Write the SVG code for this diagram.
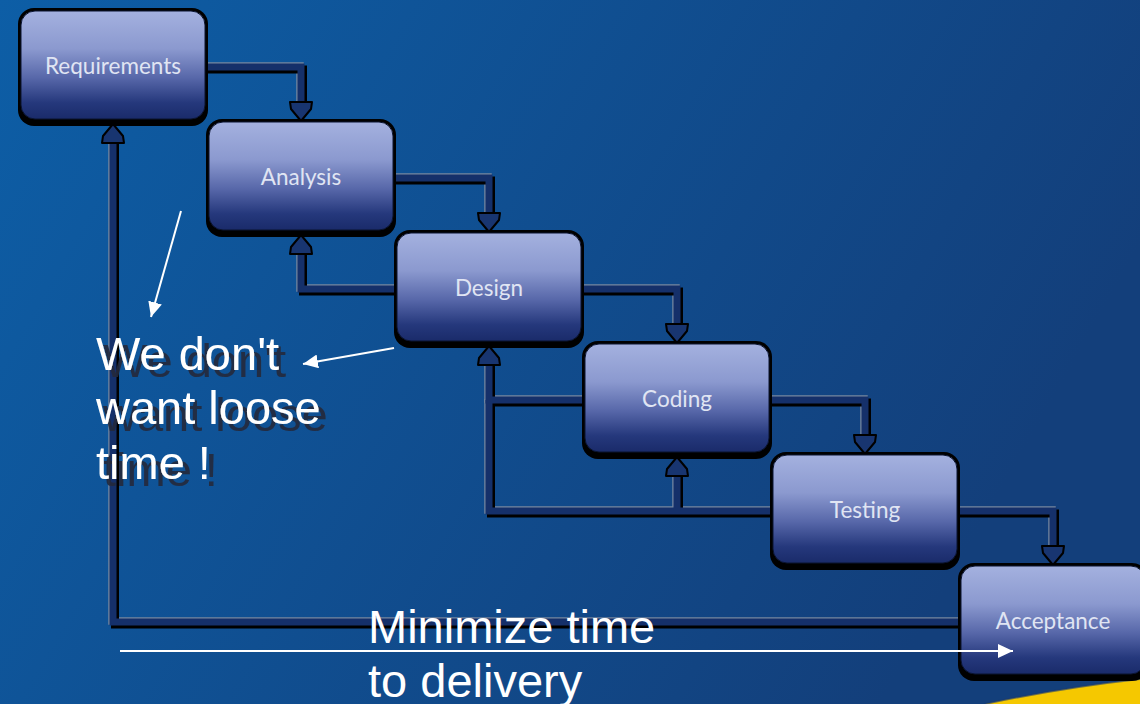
<svg xmlns="http://www.w3.org/2000/svg" xmlns:xlink="http://www.w3.org/1999/xlink" width="1140" height="704" viewBox="0 0 1140 704">
<style>
.lbl{font-family:"Lato","Open Sans","Liberation Sans",sans-serif;font-size:22.5px;fill:#e0e5f3;text-anchor:middle}
.note{font-family:"Liberation Sans",Arial,sans-serif;font-size:47px;fill:#ffffff}
.shadowed{filter:url(#ts)}
.wire{fill:none;stroke-linejoin:miter}
.ahead{fill:#183570;stroke:#000;stroke-width:2;stroke-linejoin:round}
.wl{stroke:#fff;stroke-width:2;fill:none}
.outer{fill:#000}
.inner{fill:url(#boxg);stroke:#0a1430;stroke-width:1}
</style>
<defs>
<filter id="ts" x="-5%" y="-10%" width="115%" height="130%">
<feDropShadow dx="7" dy="7" stdDeviation="0.6" flood-color="#24263a" flood-opacity="0.9"/>
</filter>
<linearGradient id="bg" x1="0" y1="0" x2="1" y2="0.35">
<stop offset="0" stop-color="#0d5ea6"/>
<stop offset="1" stop-color="#133f7b"/>
</linearGradient>
<linearGradient id="boxg" x1="0" y1="0" x2="0" y2="1">
<stop offset="0" stop-color="#a4b1df"/>
<stop offset="0.35" stop-color="#8b99cf"/>
<stop offset="0.62" stop-color="#5767a9"/>
<stop offset="0.85" stop-color="#25387c"/>
<stop offset="1" stop-color="#1a2b6a"/>
</linearGradient>
<marker id="wa" markerWidth="16" markerHeight="14" refX="15" refY="7" orient="auto" markerUnits="userSpaceOnUse">
<path d="M0,0 L15,7 L0,14 Z" fill="#fff"/>
</marker>
<g id="wires" class="wire">
<path d="M205 67 H301 V106"/>
<path d="M393 178 H489 V217"/>
<path d="M581 289 H677 V328"/>
<path d="M769 400 H865 V439"/>
<path d="M957 511 H1053 V550"/>
<path d="M399 289 H301 V252"/>
<path d="M587 400 H489 V363"/>
<path d="M775 511 H489 V400"/>
<path d="M677 511 V474"/>
<path d="M963 622 H113 V141"/>
</g>
</defs>
<rect x="0" y="0" width="1140" height="704" fill="url(#bg)"/>
<path d="M985 704 Q1060 688 1140 679 L1140 704 Z" fill="#f5c800"/>
<path d="M985 704 Q1060 688 1140 679" fill="none" stroke="#1d3a6e" stroke-width="2" opacity="0.6"/>

<g id="connectors">
<use xlink:href="#wires" href="#wires" transform="translate(-1,-1)" stroke="#76869f" stroke-width="7.5"/>
<use xlink:href="#wires" href="#wires" transform="translate(2,2.5)" stroke="#000" stroke-width="8"/>
<use xlink:href="#wires" href="#wires" stroke="#15306a" stroke-width="7"/>
<polygon class="ahead" points="290,102 312,102 311,109 301,121 291,109"/>
<polygon class="ahead" points="478,213 500,213 499,220 489,232 479,220"/>
<polygon class="ahead" points="666,324 688,324 687,331 677,343 667,331"/>
<polygon class="ahead" points="854,435 876,435 875,442 865,454 855,442"/>
<polygon class="ahead" points="1042,546 1064,546 1063,553 1053,565 1043,553"/>
<polygon class="ahead" points="102,143 124,143 123,136 113,124 103,136"/>
<polygon class="ahead" points="290,254 312,254 311,247 301,235 291,247"/>
<polygon class="ahead" points="478,365 500,365 499,358 489,346 479,358"/>
<polygon class="ahead" points="666,476 688,476 687,469 677,457 667,469"/>
</g>

<g id="node-requirements">
<rect class="outer" x="18" y="8" width="190" height="118" rx="16"/>
<rect class="inner" x="21" y="11" width="184" height="108" rx="14"/>
<text class="lbl" x="113" y="74">Requirements</text>
</g>
<g id="node-analysis">
<rect class="outer" x="206" y="119" width="190" height="118" rx="16"/>
<rect class="inner" x="209" y="122" width="184" height="108" rx="14"/>
<text class="lbl" x="301" y="185">Analysis</text>
</g>
<g id="node-design">
<rect class="outer" x="394" y="230" width="190" height="118" rx="16"/>
<rect class="inner" x="397" y="233" width="184" height="108" rx="14"/>
<text class="lbl" x="489" y="296">Design</text>
</g>
<g id="node-coding">
<rect class="outer" x="582" y="341" width="190" height="118" rx="16"/>
<rect class="inner" x="585" y="344" width="184" height="108" rx="14"/>
<text class="lbl" x="677" y="407">Coding</text>
</g>
<g id="node-testing">
<rect class="outer" x="770" y="452" width="190" height="118" rx="16"/>
<rect class="inner" x="773" y="455" width="184" height="108" rx="14"/>
<text class="lbl" x="865" y="518">Testing</text>
</g>
<g id="node-acceptance">
<rect class="outer" x="958" y="563" width="190" height="118" rx="16"/>
<rect class="inner" x="961" y="566" width="184" height="108" rx="14"/>
<text class="lbl" x="1053" y="629">Acceptance</text>
</g>

<g id="annotations">
<line class="wl" x1="181" y1="211" x2="151" y2="317" marker-end="url(#wa)"/>
<line class="wl" x1="394" y1="348" x2="303" y2="364" marker-end="url(#wa)"/>
<line class="wl" x1="120" y1="651" x2="1013" y2="651" marker-end="url(#wa)"/>
<text class="note shadowed" x="96" y="370">We don't</text>
<text class="note shadowed" x="96" y="424">want loose</text>
<text class="note shadowed" x="96" y="479">time !</text>
<text class="note" x="368" y="643">Minimize time</text>
<text class="note" x="368" y="697">to delivery</text>
</g>
</svg>
